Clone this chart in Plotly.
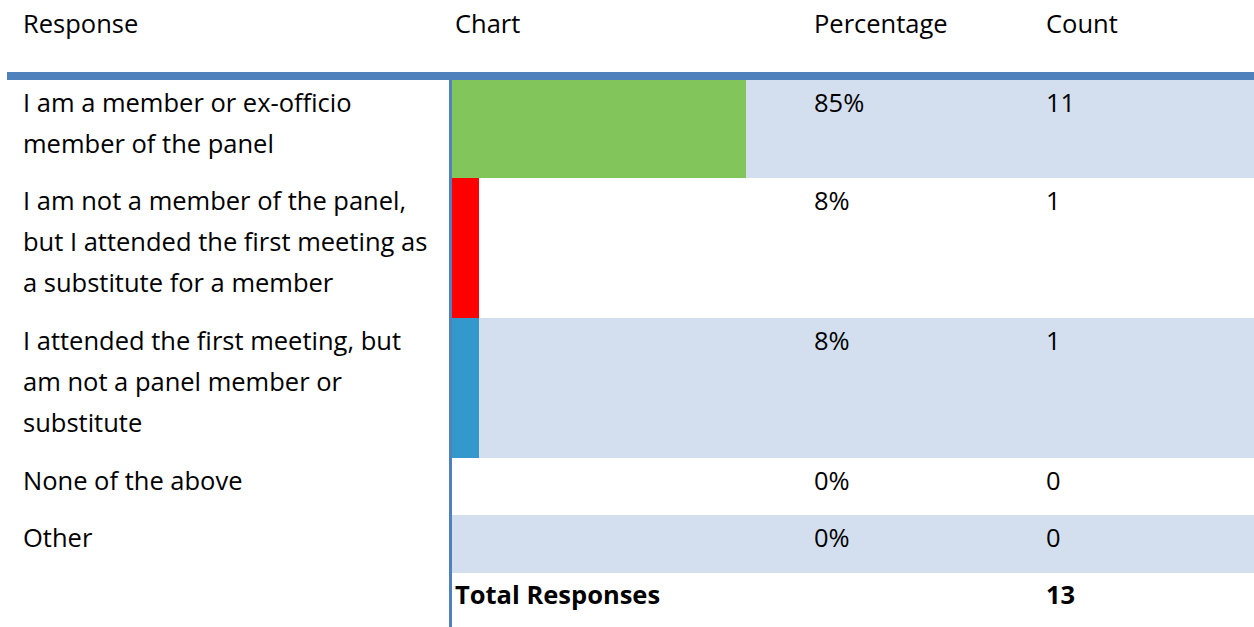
import plotly.graph_objects as go

# ---- data ----
responses = [
    "I am a member or ex-officio<br>member of the panel",
    "I am not a member of the panel,<br>but I attended the first meeting as<br>a substitute for a member",
    "I attended the first meeting, but<br>am not a panel member or<br>substitute",
    "None of the above",
    "Other",
]
counts = [11, 1, 1, 0, 0]
bar_colors = ["#82C55B", "#FF0000", "#3399CC", "#3399CC", "#3399CC"]
headers = ["Response", "Chart", "Percentage", "Count"]
total_label = "Total Responses"

total = sum(counts)
pcts = [c / total * 100 for c in counts]

# ---- layout constants (pixels) ----
W, H = 1254, 627
row_edges = [80, 178, 318, 458, 515, 573]
centers = [(a + b) / 2 for a, b in zip(row_edges[:-1], row_edges[1:])]
heights = [b - a for a, b in zip(row_edges[:-1], row_edges[1:])]
bar_x0, bar_x1 = 452, 799
col_x = {"resp": 21, "chart": 453, "pct": 812, "count": 1044}
FONT = "Open Sans"
FS = 25.5
LINE = 41
TEXT_OFF = 3  # top of text box relative to row top

fig = go.Figure()
fig.add_trace(go.Bar(
    x=pcts, y=centers, width=heights, base=0, orientation="h",
    marker=dict(color=bar_colors, line=dict(width=0)),
    hoverinfo="skip", showlegend=False,
))

def px(x):
    return x / W

shapes = []
# light blue row backgrounds
for i in range(len(counts)):
    if i % 2 == 0:
        shapes.append(dict(type="rect", xref="paper", yref="y",
                           x0=px(bar_x0), x1=1, y0=row_edges[i], y1=row_edges[i + 1],
                           fillcolor="#D3DFEE", line=dict(width=0), layer="below"))
# header separator
shapes.append(dict(type="rect", xref="paper", yref="y", x0=px(7), x1=1, y0=72, y1=80,
                   fillcolor="#4F81BD", line=dict(width=0), layer="above"))
# vertical divider
shapes.append(dict(type="rect", xref="paper", yref="y", x0=px(449), x1=px(452), y0=80, y1=H,
                   fillcolor="#4F81BD", line=dict(width=0), layer="above"))

annots = []
def txt(x, y, s, bold=False):
    annots.append(dict(xref="paper", yref="y", x=px(x), y=y, text=("<b>%s</b>" % s) if bold else s,
                       xanchor="left", yanchor="top", showarrow=False,
                       font=dict(family=FONT, size=FS, color="#000000")))

# headers
for key, h in zip(["resp", "chart", "pct", "count"], headers):
    txt(col_x[key], 4, h)

for i, (lab, c, p) in enumerate(zip(responses, counts, pcts)):
    top = row_edges[i] + TEXT_OFF
    for j, line in enumerate(lab.split("<br>")):
        txt(col_x["resp"], top + j * LINE, line)
    txt(col_x["pct"], top, "%d%%" % round(p))
    txt(col_x["count"], top, str(c))

txt(col_x["chart"], row_edges[-1] + 2, total_label, bold=True)
txt(col_x["count"], row_edges[-1] + 2, str(total), bold=True)

fig.update_layout(
    width=W, height=H, margin=dict(l=0, r=0, t=0, b=0),
    paper_bgcolor="white", plot_bgcolor="rgba(0,0,0,0)",
    xaxis=dict(domain=[px(bar_x0), px(bar_x1)], range=[0, 100], visible=False, fixedrange=True),
    yaxis=dict(domain=[0, 1], range=[H, 0], visible=False, fixedrange=True),
    shapes=shapes, annotations=annots, bargap=0,
)

fig.write_html("out.html")
